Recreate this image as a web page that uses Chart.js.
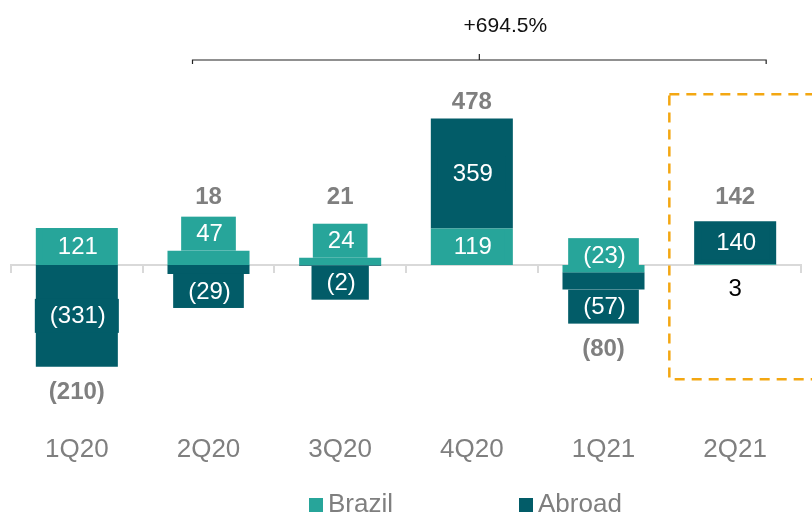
<!DOCTYPE html>
<html>
<head>
   <meta charset="utf-8">
   <script src="https://cdn.jsdelivr.net/npm/chart.js@4.4.1/dist/chart.umd.min.js"></script>
   <title>Brazil / Abroad by quarter</title>
   <style>
      html, body { margin: 0; padding: 0; background: #fff; }
   </style>
</head>
<body>
   <canvas id="bar-chart" width="812" height="515"></canvas>
<script>
   const categories = ['1Q20', '2Q20', '3Q20', '4Q20', '1Q21', '2Q21'];
   const brazil = [121, 47, 24, 119, -23, 3];
   const abroad = [-331, -29, -2, 359, -57, 140];
   const totals = [-210, 18, 21, 478, -80, 142];
   const growthText = '+694.5%';

   const FONT = '"Liberation Sans", Arial, sans-serif';
   const BRAZIL_COLOR = '#27a59a';
   const ABROAD_COLOR = '#025c68';
   const GRAY = '#7f7f7f';
   const BOX_H = 34;
   const PAD_X = 14;

   function fmt(v) {
      return v < 0 ? '(' + Math.abs(v) + ')' : String(v);
   }

   // value labels on coloured boxes + stack totals
   const valueLabels = {
      id: 'valueLabels',
      afterDatasetsDraw(chart) {
         const ctx = chart.ctx;
         const zeroY = chart.scales.y.getPixelForValue(0);
         const ends = categories.map(() => ({ top: zeroY, bottom: zeroY }));
         const sets = chart.data.datasets;
         ctx.save();
         ctx.textAlign = 'center';
         ctx.textBaseline = 'middle';
         ctx.font = '24px ' + FONT;
         sets.forEach((ds, di) => {
            const meta = chart.getDatasetMeta(di);
            meta.data.forEach((bar, i) => {
               const v = ds.data[i];
               const text = fmt(v);
               const top = Math.min(bar.y, bar.base);
               const bottom = Math.max(bar.y, bar.base);
               const h = bottom - top;
               const dir = v >= 0 ? -1 : 1;
               // another bar stacked further out on the same side?
               const covered = sets.some((o, k) => k > di && o.data[i] !== 0 && Math.sign(o.data[i]) === Math.sign(v));
               ends[i].top = Math.min(ends[i].top, top);
               ends[i].bottom = Math.max(ends[i].bottom, bottom);
               if (h < 2 && covered) {
                  ctx.fillStyle = '#000';
                  ctx.fillText(text, bar.x, bar.y - dir * 25);
                  return;
               }
               let cy;
               if (h >= BOX_H) cy = (top + bottom) / 2;
               else if (covered) cy = bar.y - dir * BOX_H / 2;
               else cy = bar.y + dir * BOX_H / 2;
               const w = ctx.measureText(text).width + 2 * PAD_X;
               ctx.fillStyle = ds.backgroundColor;
               ctx.fillRect(bar.x - w / 2, cy - BOX_H / 2, w, BOX_H);
               ctx.fillStyle = '#fff';
               ctx.fillText(text, bar.x + 1, cy + 1);
               ends[i].top = Math.min(ends[i].top, cy - BOX_H / 2);
               ends[i].bottom = Math.max(ends[i].bottom, cy + BOX_H / 2);
            });
         });

         ctx.font = 'bold 24px ' + FONT;
         ctx.fillStyle = GRAY;
         totals.forEach((t, i) => {
            const x = chart.scales.x.getPixelForValue(i);
            const y = t >= 0 ? Math.min(ends[i].top - 16, zeroY - 68) : ends[i].bottom + 26;
            ctx.fillText(fmt(t), x, y);
         });
         ctx.restore();
      },
      afterDraw(chart) {
         const ctx = chart.ctx;
         const xs = chart.scales.x;
         const ys = chart.scales.y;
         ctx.save();

         // dashed highlight around the last quarter
         const left = (xs.getPixelForValue(4) + xs.getPixelForValue(5)) / 2;
         const top = ys.getPixelForValue(557);
         const bottom = ys.getPixelForValue(-372);
         ctx.strokeStyle = '#f3a712';
         ctx.lineWidth = 2.5;
         ctx.setLineDash([10, 7]);
         ctx.strokeRect(left, top, chart.width + 20 - left, bottom - top);
         ctx.setLineDash([]);

         // growth bracket 2Q20 -> 2Q21
         const bx1 = xs.getPixelForValue(1) - 16;
         const bx2 = xs.getPixelForValue(5) + 31;
         const by = 60;
         const mid = (bx1 + bx2) / 2;
         ctx.strokeStyle = '#222';
         ctx.lineWidth = 1.2;
         ctx.beginPath();
         ctx.moveTo(bx1, by + 4);
         ctx.lineTo(bx1, by);
         ctx.lineTo(bx2, by);
         ctx.lineTo(bx2, by + 4);
         ctx.moveTo(mid, by);
         ctx.lineTo(mid, by - 6);
         ctx.stroke();
         ctx.fillStyle = '#111';
         ctx.font = '21px ' + FONT;
         ctx.textAlign = 'center';
         ctx.textBaseline = 'middle';
         ctx.fillText(growthText, mid + 26, 26);

         // legend
         const items = [['Brazil', BRAZIL_COLOR], ['Abroad', ABROAD_COLOR]];
         ctx.font = '26px ' + FONT;
         ctx.textAlign = 'left';
         items.forEach((it, k) => {
            const lx = 309 + k * 210;
            ctx.fillStyle = it[1];
            ctx.fillRect(lx, 498, 14, 14);
            ctx.fillStyle = GRAY;
            ctx.fillText(it[0], lx + 19, 505);
         });
         ctx.restore();
      }
   };

   new Chart(document.getElementById('bar-chart'), {
      type: 'bar',
      data: {
         labels: categories,
         datasets: [
            { label: 'Brazil', data: brazil, backgroundColor: BRAZIL_COLOR },
            { label: 'Abroad', data: abroad, backgroundColor: ABROAD_COLOR }
         ]
      },
      options: {
         responsive: false,
         animation: false,
         categoryPercentage: 1,
         barPercentage: 0.623,
         layout: { padding: { top: 81, left: 11, right: 11, bottom: 3 } },
         plugins: {
            legend: { display: false },
            tooltip: { enabled: false }
         },
         scales: {
            x: {
               stacked: true,
               grid: { display: false, drawTicks: false },
               border: { display: false },
               ticks: { color: GRAY, font: { size: 26, family: FONT }, padding: 46.5 },
               // labels sit inside their categories, no side overhang needed
               afterFit(scale) {
                  scale.paddingLeft = 0;
                  scale.paddingRight = 0;
               }
            },
            x2: {
               axis: 'x',
               type: 'category',
               labels: categories,
               position: { y: 0 },
               offset: true,
               grid: { drawOnChartArea: false, color: '#d9d9d9', lineWidth: 2, tickLength: 7, offset: true },
               border: { color: '#d9d9d9', width: 2 },
               ticks: { display: false }
            },
            y: {
               stacked: true,
               display: false,
               min: -400,
               max: 600
            }
         }
      },
      plugins: [valueLabels]
   });
</script>
</body>
</html>
